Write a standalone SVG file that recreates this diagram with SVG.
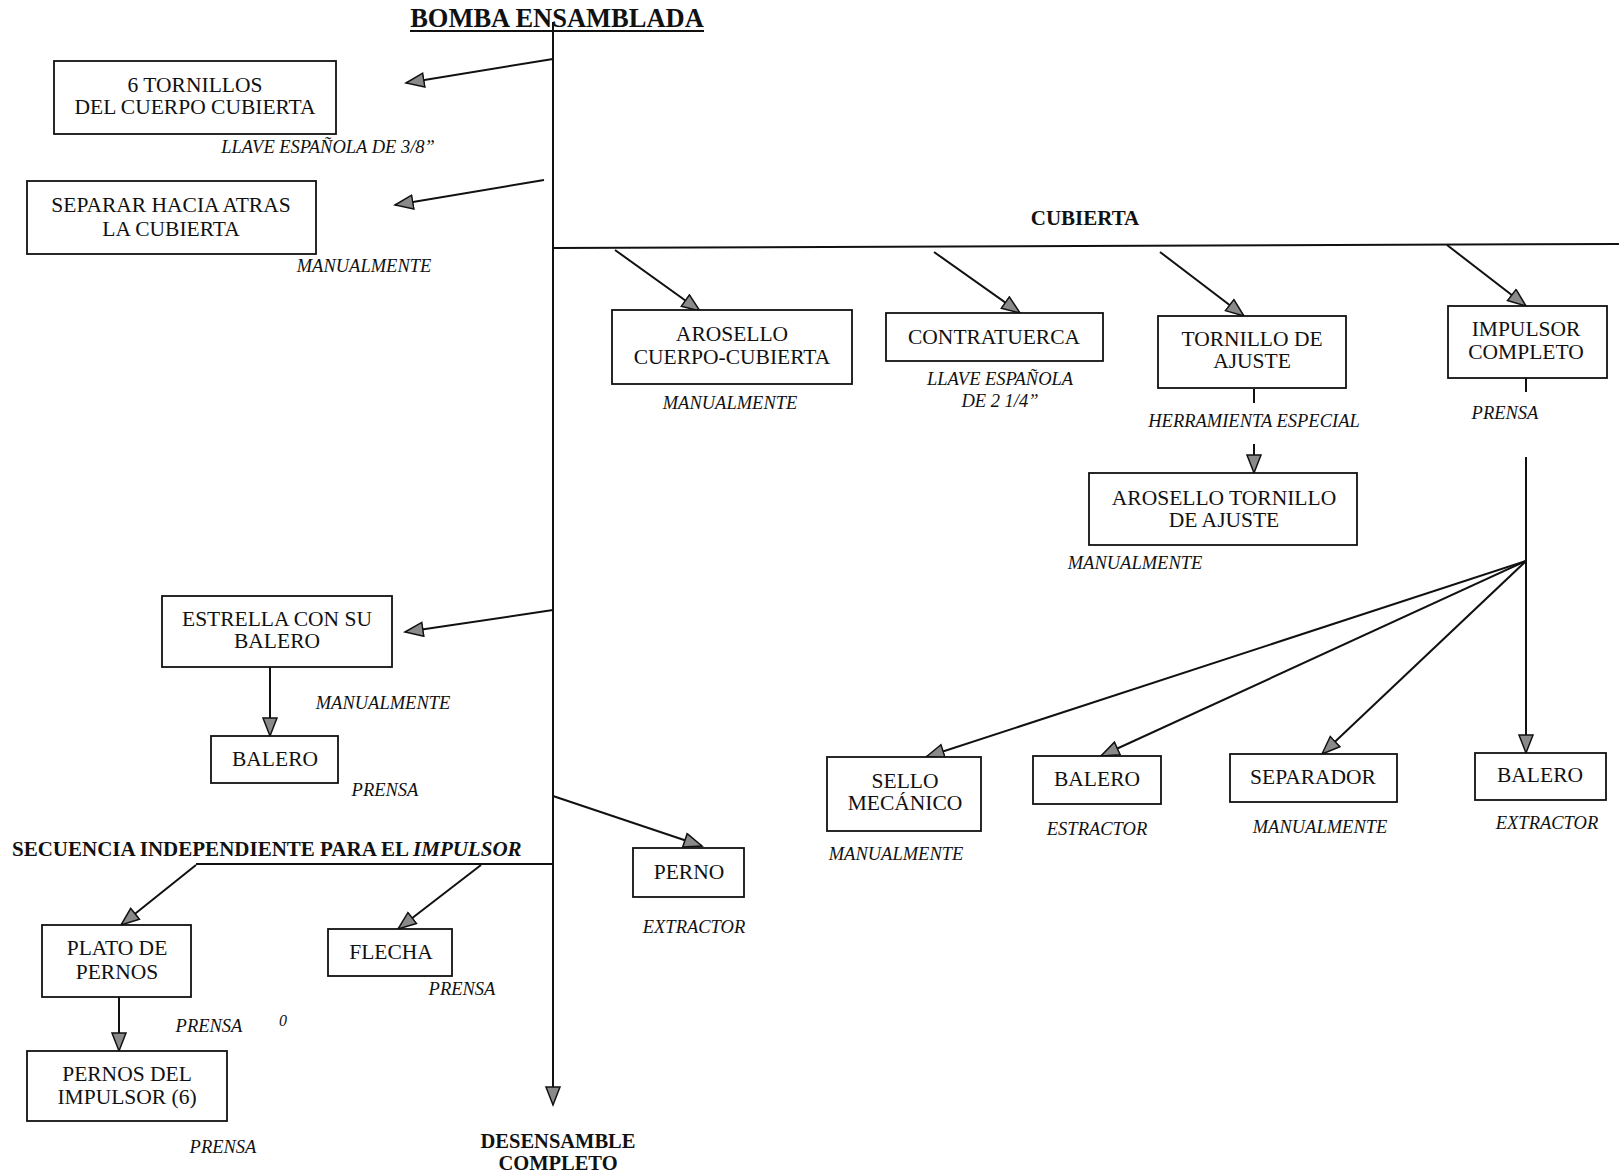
<svg xmlns="http://www.w3.org/2000/svg" width="1619" height="1174" viewBox="0 0 1619 1174">
<defs>
<marker id="ah" markerUnits="userSpaceOnUse" markerWidth="22" markerHeight="18" refX="19" refY="8" orient="auto">
<path d="M1,1 L19,8 L1,15 Z" fill="#8a8a8a" stroke="#111" stroke-width="1.5"/>
</marker>
<style>
.box{fill:#fff;stroke:#111;stroke-width:1.8}
.t{font-family:"Liberation Serif","Times New Roman",serif;font-size:21.5px;fill:#111;text-anchor:middle}
.i{font-family:"Liberation Serif","Times New Roman",serif;font-size:18.5px;font-style:italic;fill:#111;text-anchor:middle}
.b{font-family:"Liberation Serif","Times New Roman",serif;font-size:21px;font-weight:bold;fill:#111;text-anchor:middle}
.ln{fill:none;stroke:#111;stroke-width:2}
.ar{fill:none;stroke:#111;stroke-width:2;marker-end:url(#ah)}
</style>
</defs>
<rect width="1619" height="1174" fill="#fff"/>

<g id="title">
<text x="557" y="27" class="b" style="font-size:26.5px">BOMBA ENSAMBLADA</text>
<line x1="410" y1="31" x2="704" y2="31" class="ln"/>
</g>

<g id="connectors">
<line x1="553" y1="22" x2="553" y2="1105" class="ar"/>
<line x1="553" y1="59" x2="406" y2="83" class="ar"/>
<line x1="544" y1="180" x2="395" y2="205" class="ar"/>
<line x1="553" y1="610" x2="405" y2="632" class="ar"/>
<line x1="553" y1="796" x2="702" y2="846" class="ar"/>
<line x1="553" y1="248" x2="1619" y2="244" class="ln"/>
<line x1="615" y1="250" x2="700" y2="311" class="ar"/>
<line x1="934" y1="252" x2="1020" y2="313" class="ar"/>
<line x1="1160" y1="252" x2="1244" y2="316" class="ar"/>
<line x1="1447" y1="245" x2="1526" y2="306" class="ar"/>
<line x1="1254" y1="389" x2="1254" y2="403" class="ln"/>
<line x1="1254" y1="444" x2="1254" y2="473" class="ar"/>
<line x1="1526" y1="378" x2="1526" y2="392" class="ln"/>
<line x1="1526" y1="457" x2="1526" y2="753" class="ar"/>
<line x1="1526" y1="561" x2="926" y2="757" class="ar"/>
<line x1="1526" y1="561" x2="1101" y2="756" class="ar"/>
<line x1="1526" y1="561" x2="1322" y2="754" class="ar"/>
<line x1="270" y1="667" x2="270" y2="736" class="ar"/>
<line x1="196" y1="864" x2="553" y2="864" class="ln"/>
<line x1="196" y1="865" x2="121" y2="925" class="ar"/>
<line x1="481" y1="865" x2="398" y2="929" class="ar"/>
<line x1="119" y1="997" x2="119" y2="1051" class="ar"/>
</g>

<g id="n-tornillos">
<rect x="54" y="61" width="282" height="73" class="box"/>
<text x="195" y="92" class="t">6 TORNILLOS</text>
<text x="195" y="114" class="t">DEL CUERPO CUBIERTA</text>
<text x="328" y="153" class="i">LLAVE ESPAÑOLA DE 3/8”</text>
</g>

<g id="n-separar">
<rect x="27" y="181" width="289" height="73" class="box"/>
<text x="171" y="212" class="t">SEPARAR HACIA ATRAS</text>
<text x="171" y="236" class="t">LA CUBIERTA</text>
<text x="364" y="272" class="i">MANUALMENTE</text>
</g>

<g id="n-cubierta">
<text x="1085" y="225" class="b">CUBIERTA</text>
</g>

<g id="n-arosello">
<rect x="612" y="310" width="240" height="74" class="box"/>
<text x="732" y="341" class="t">AROSELLO</text>
<text x="732" y="364" class="t">CUERPO-CUBIERTA</text>
<text x="730" y="409" class="i">MANUALMENTE</text>
</g>

<g id="n-contratuerca">
<rect x="886" y="313" width="217" height="48" class="box"/>
<text x="994" y="344" class="t">CONTRATUERCA</text>
<text x="1000" y="385" class="i">LLAVE ESPAÑOLA</text>
<text x="1000" y="407" class="i">DE 2 1/4”</text>
</g>

<g id="n-tornillo-ajuste">
<rect x="1158" y="316" width="188" height="72" class="box"/>
<text x="1252" y="346" class="t">TORNILLO DE</text>
<text x="1252" y="368" class="t">AJUSTE</text>
<text x="1254" y="427" class="i">HERRAMIENTA ESPECIAL</text>
</g>

<g id="n-arosello-tornillo">
<rect x="1089" y="473" width="268" height="72" class="box"/>
<text x="1224" y="505" class="t">AROSELLO TORNILLO</text>
<text x="1224" y="527" class="t">DE AJUSTE</text>
<text x="1135" y="569" class="i">MANUALMENTE</text>
</g>

<g id="n-impulsor">
<rect x="1448" y="306" width="159" height="72" class="box"/>
<text x="1526" y="336" class="t">IMPULSOR</text>
<text x="1526" y="359" class="t">COMPLETO</text>
<text x="1505" y="419" class="i">PRENSA</text>
</g>

<g id="n-sello">
<rect x="827" y="757" width="154" height="74" class="box"/>
<text x="905" y="788" class="t">SELLO</text>
<text x="905" y="810" class="t">MECÁNICO</text>
<text x="896" y="860" class="i">MANUALMENTE</text>
</g>

<g id="n-balero-estractor">
<rect x="1033" y="756" width="128" height="48" class="box"/>
<text x="1097" y="786" class="t">BALERO</text>
<text x="1097" y="835" class="i">ESTRACTOR</text>
</g>

<g id="n-separador">
<rect x="1230" y="754" width="167" height="48" class="box"/>
<text x="1313" y="784" class="t">SEPARADOR</text>
<text x="1320" y="833" class="i">MANUALMENTE</text>
</g>

<g id="n-balero-extractor">
<rect x="1475" y="753" width="131" height="47" class="box"/>
<text x="1540" y="782" class="t">BALERO</text>
<text x="1547" y="829" class="i">EXTRACTOR</text>
</g>

<g id="n-estrella">
<rect x="162" y="596" width="230" height="71" class="box"/>
<text x="277" y="626" class="t">ESTRELLA CON SU</text>
<text x="277" y="648" class="t">BALERO</text>
<text x="383" y="709" class="i">MANUALMENTE</text>
</g>

<g id="n-balero-prensa">
<rect x="211" y="736" width="127" height="47" class="box"/>
<text x="275" y="766" class="t">BALERO</text>
<text x="385" y="796" class="i">PRENSA</text>
</g>

<g id="n-secuencia">
<text x="12" y="856" class="b" style="text-anchor:start">SECUENCIA INDEPENDIENTE PARA EL <tspan font-style="italic">IMPULSOR</tspan></text>
</g>

<g id="n-plato">
<rect x="42" y="925" width="149" height="72" class="box"/>
<text x="117" y="955" class="t">PLATO DE</text>
<text x="117" y="979" class="t">PERNOS</text>
<text x="209" y="1032" class="i">PRENSA</text>
<text x="283" y="1026" class="i" style="font-size:16px">0</text>
</g>

<g id="n-flecha">
<rect x="328" y="929" width="124" height="47" class="box"/>
<text x="391" y="959" class="t">FLECHA</text>
<text x="462" y="995" class="i">PRENSA</text>
</g>

<g id="n-pernos-impulsor">
<rect x="27" y="1051" width="200" height="70" class="box"/>
<text x="127" y="1081" class="t">PERNOS DEL</text>
<text x="127" y="1104" class="t">IMPULSOR  (6)</text>
<text x="223" y="1153" class="i">PRENSA</text>
</g>

<g id="n-perno">
<rect x="633" y="848" width="111" height="49" class="box"/>
<text x="689" y="879" class="t">PERNO</text>
<text x="694" y="933" class="i">EXTRACTOR</text>
</g>

<g id="n-desensamble">
<text x="558" y="1148" class="b" style="font-size:20.5px">DESENSAMBLE</text>
<text x="558" y="1170" class="b" style="font-size:20.5px">COMPLETO</text>
</g>
</svg>
